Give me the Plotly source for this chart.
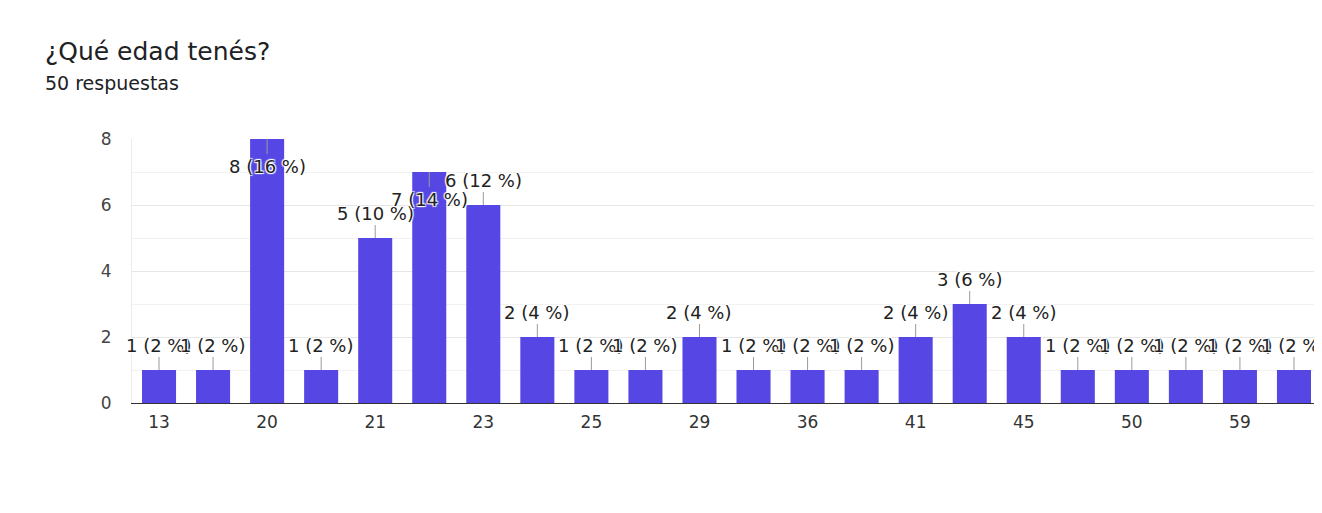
"""
plot.py
-------
Bar chart of the answers to "¿Qué edad tenés?" (Google Forms summary style).
"""

import plotly.graph_objects as go

# ---------------------------------------------------------------------------
# Data
# ---------------------------------------------------------------------------

ages = ["13", "18", "20", "20 años", "21", "22", "23", "24", "25", "27", "29",
        "33", "36", "38", "41", "43", "45", "47", "50", "55", "59", "62"]
counts = [1, 1, 8, 1, 5, 7, 6, 2, 1, 1, 2, 1, 1, 1, 2, 3, 2, 1, 1, 1, 1, 1]
tick_labels = ["13", "20", "21", "23", "25", "29", "36", "41", "45", "50", "59"]

TITLE = "¿Qué edad tenés?"
SUBTITLE = f"{sum(counts)} respuestas"

Y_MAX = 8
BAR_COLOR = "#5646e3"
FONT = "DejaVu Sans"
HALO = ("1px 1px 1px #fff, -1px -1px 1px #fff, "
        "1px -1px 1px #fff, -1px 1px 1px #fff")

# the page body keeps its default 8px margin, so the figure sits at (8, 8)
OFF = 8
W, H = 1322 - OFF, 513 - OFF
L, R, T, B = 132 - OFF, 1, 139 - OFF, 110


def to_paper(px_x, px_y):
    """Screen pixel -> paper coords of the plot area."""
    pw, ph = W - L - R, H - T - B
    return (px_x - OFF - L) / pw, (H - B - (px_y - OFF)) / ph


# ---------------------------------------------------------------------------
# Figure
# ---------------------------------------------------------------------------

fig = go.Figure(go.Bar(x=ages, y=counts, marker=dict(color=BAR_COLOR, line=dict(width=0)),
                       hoverinfo="x+y"))

total = sum(counts)
for i, n in enumerate(counts):
    inside = n > Y_MAX - 1.2          # no room above -> label drops into the bar
    # category axis: annotation x given as the category index
    fig.add_annotation(
        x=i, y=n, xref="x", yref="y",
        text=f"{n} ({round(n / total * 100)} %)",
        showarrow=True, arrowhead=0, arrowwidth=1, arrowcolor="#9a9a9a",
        ax=0, ay=27 if inside else -25, standoff=0,
        font=dict(family=FONT, size=18, color="#222222", shadow=HALO),
    )

tx, ty = to_paper(44, 51)
fig.add_annotation(x=tx, y=ty, xref="paper", yref="paper", text=TITLE,
                   showarrow=False, xanchor="left", yanchor="middle", borderpad=0,
                   font=dict(family=FONT, size=25, color="#202124"))
sx, sy = to_paper(44, 83)
fig.add_annotation(x=sx, y=sy, xref="paper", yref="paper", text=SUBTITLE,
                   showarrow=False, xanchor="left", yanchor="middle", borderpad=0,
                   font=dict(family=FONT, size=19, color="#202124"))

fig.update_layout(
    width=W, height=H,
    margin=dict(l=L, r=R, t=T, b=B),
    paper_bgcolor="white", plot_bgcolor="white",
    bargap=0.37, showlegend=False,
    font=dict(family=FONT, size=17, color="#444444"),
)
fig.update_xaxes(type="category", range=[-0.5, len(ages) - 0.5], automargin=False,
                 tickmode="array", tickvals=tick_labels, ticktext=tick_labels,
                 showgrid=False, ticks="", ticklabelstandoff=4,
                 tickfont=dict(size=17, color="#333333"),
                 showline=True, linecolor="#333333", linewidth=1)
fig.update_yaxes(range=[0, Y_MAX], dtick=2, automargin=False,
                 showgrid=True, gridcolor="#e6e6e6",
                 minor=dict(dtick=1, showgrid=True, gridcolor="#f2f2f2"),
                 zeroline=False, ticks="", ticklabelstandoff=16,
                 tickfont=dict(size=17, color="#444444"),
                 showline=True, linecolor="#ececec", linewidth=1, mirror=True)

fig.write_html("out.html")
